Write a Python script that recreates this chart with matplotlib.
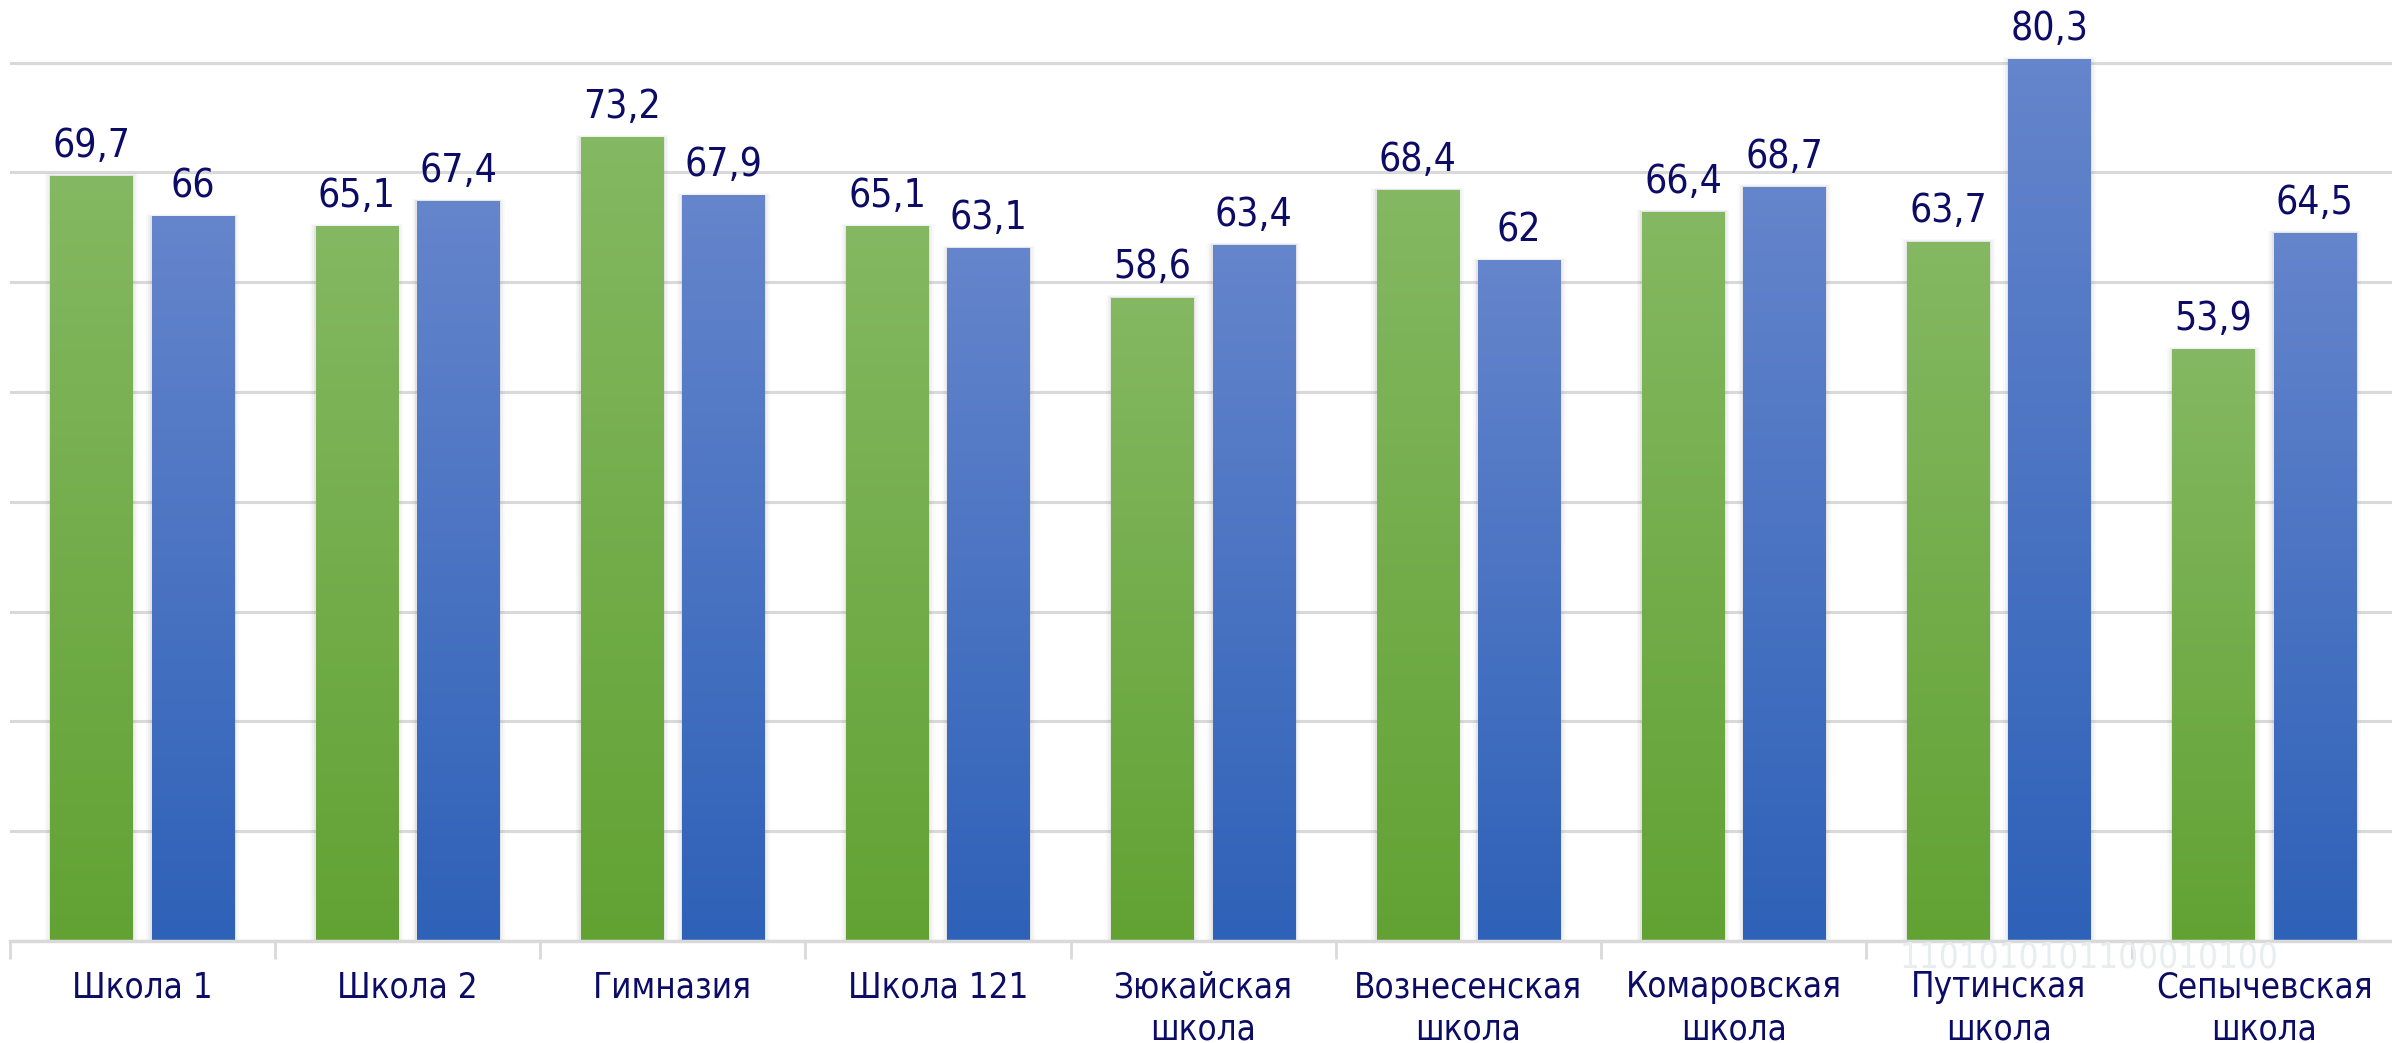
import numpy as np
import matplotlib
matplotlib.use("Agg")
import matplotlib.pyplot as plt
from matplotlib import font_manager as fm
from matplotlib.patches import Rectangle
from matplotlib.colors import LinearSegmentedColormap

categories = ["Школа 1", "Школа 2", "Гимназия", "Школа 121", "Зюкайская\nшкола",
              "Вознесенская\nшкола", "Комаровская\nшкола", "Путинская\nшкола",
              "Сепычевская\nшкола"]
series_green = [69.7, 65.1, 73.2, 65.1, 58.6, 68.4, 66.4, 63.7, 53.9]
series_blue = [66.0, 67.4, 67.9, 63.1, 63.4, 62.0, 68.7, 80.3, 64.5]
label_green = ["69,7", "65,1", "73,2", "65,1", "58,6", "68,4", "66,4", "63,7", "53,9"]
label_blue = ["66", "67,4", "67,9", "63,1", "63,4", "62", "68,7", "80,3", "64,5"]

# pick a narrow font if available
names = {f.name + '|' + str(f.stretch) for f in fm.fontManager.ttflist}
condensed = any(n.startswith('DejaVu Sans|') and ('condensed' in n or '|75' in n) for n in names)
if condensed:
    fprops = dict(family='DejaVu Sans', stretch='condensed')
    fs_val, fs_cat = 28, 25
else:
    fprops = dict(family='DejaVu Sans')
    fs_val, fs_cat = 23, 21

navy = '#0C0C66'
grid_c = '#D9D9D9'

fig = plt.figure(figsize=(23.92, 10.43), dpi=100)
fig.patch.set_facecolor('white')
ax = fig.add_axes([0.004, 0.0978, 0.998, 0.9022])
ax.set_facecolor('none')
ax.set_xlim(-0.5, 8.5)
ax.set_ylim(0, 85.7)

# faint watermark text in lower right (background)
fig.text(0.794, 0.082, "1101010101100010100", fontsize=25, color='#E8EDEF',
         ha='left', va='center', zorder=0, family='DejaVu Sans', stretch='condensed')

ax.set_yticks(np.arange(0, 81, 10))
ax.set_yticklabels([])
ax.tick_params(axis='y', length=0)
ax.yaxis.grid(True, color=grid_c, lw=2.2, zorder=0.5)
ax.set_axisbelow(True)
for s in ['left', 'right', 'top']:
    ax.spines[s].set_visible(False)
ax.spines['bottom'].set_color(grid_c)
ax.spines['bottom'].set_linewidth(2.5)
ax.spines['bottom'].set_zorder(3)

x = np.arange(len(categories))
w = 0.31
off = 0.191
bars_g = ax.bar(x - off, series_green, w, color='none', zorder=2)
bars_b = ax.bar(x + off, series_blue, w, color='none', zorder=2)

cmap_g = LinearSegmentedColormap.from_list('g', ['#62A233', '#84B862'])
cmap_b = LinearSegmentedColormap.from_list('b', ['#2E61B8', '#6585CC'])
grad = np.linspace(0, 1, 256).reshape(-1, 1)

for bars, cmap in [(bars_g, cmap_g), (bars_b, cmap_b)]:
    for p in bars:
        x0 = p.get_x()
        bw, bh = p.get_width(), p.get_height()
        # soft shadow
        for k, a in [(0.02, 0.04), (0.013, 0.06), (0.006, 0.10)]:
            ax.add_patch(Rectangle((x0 - k, 0), bw + 2 * k, bh + k * 10,
                                   fc='#7A7A7A', ec='none', alpha=a, zorder=1.5))
        im = ax.imshow(grad, extent=(x0, x0 + bw, 0, bh), origin='lower',
                       cmap=cmap, aspect='auto', zorder=2, interpolation='bicubic')
        im.set_clip_path(p)

for bars, labels in [(bars_g, label_green), (bars_b, label_blue)]:
    for p, t in zip(bars, labels):
        ax.annotate(t, (p.get_x() + p.get_width() / 2, p.get_height()),
                    xytext=(0, 8), textcoords='offset points', ha='center',
                    va='bottom', fontsize=fs_val, color=navy, zorder=4, **fprops)

ax.set_xticks(x)
ax.set_xticklabels(categories, fontsize=fs_cat, color=navy, linespacing=1.3, **fprops)
ax.tick_params(axis='x', which='major', length=0, pad=21)
ax.set_xticks(np.arange(-0.5, 9, 1), minor=True)
ax.tick_params(axis='x', which='minor', length=13, width=2, color=grid_c)

fig.savefig('out.png', dpi=100)
